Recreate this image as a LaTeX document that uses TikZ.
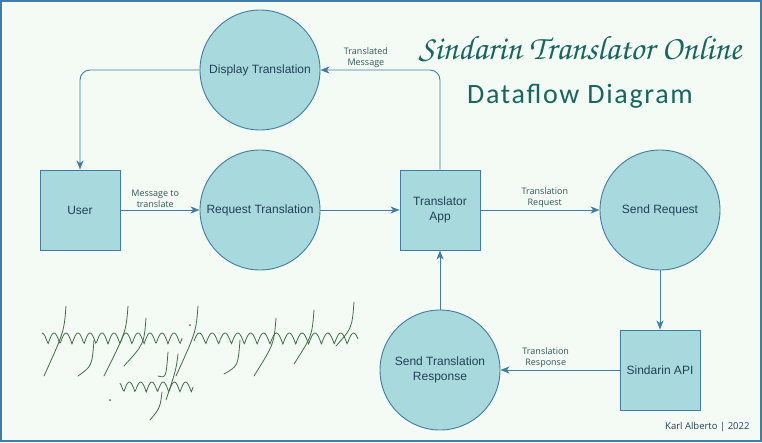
\documentclass[tikz,border=0pt]{standalone}
\usepackage{fontspec}
\setmainfont{Liberation Sans}
\newfontfamily\labelfont{Open Sans}
\newfontfamily\subtitlefont[LetterSpace=6]{Carlito}
\usetikzlibrary{arrows.meta,positioning}

\definecolor{bgmint}{HTML}{F4FBF4}
\definecolor{edgeblue}{HTML}{3F7DA6}
\definecolor{shapefill}{HTML}{A8D9DC}
\definecolor{nodetext}{HTML}{22405A}
\definecolor{labelgray}{HTML}{2D5858}
\definecolor{titleteal}{HTML}{17665F}
\definecolor{elfgreen}{HTML}{3D6F47}

\newcommand{\choruson}{\fontencoding{T1}\fontfamily{pzc}\fontseries{mb}\fontshape{it}\selectfont}

\tikzset{
  process/.style={circle, draw=edgeblue, fill=shapefill, line width=0.9pt,
    minimum size=120pt, inner sep=0pt, align=center, text=nodetext,
    font=\fontsize{12}{15}\selectfont},
  entity/.style={rectangle, draw=edgeblue, fill=shapefill, line width=0.9pt,
    minimum size=80pt, inner sep=0pt, align=center, text=nodetext,
    font=\fontsize{12}{15}\selectfont},
  flow/.style={draw=edgeblue, line width=0.9pt, rounded corners=10pt,
    -{Stealth[length=9pt,width=7pt,inset=2.5pt]}},
  flowlabel/.style={text=labelgray, align=center, inner sep=1.5pt,
    font=\labelfont\fontsize{9}{11}\selectfont},
  elvish/.style={draw=elfgreen, line width=0.8pt, line cap=round}
}

\begin{document}
\begin{tikzpicture}[x=1pt, y=-1pt]
  \useasboundingbox (0,0) rectangle (762,442);
  \fill[bgmint] (0,0) rectangle (762,442);
  \draw[edgeblue, line width=1.6pt] (0.8,0.8) rectangle (761.2,441.2);

  % processes and entities
  \node[process] (display)  at (260,70)  {Display Translation};
  \node[entity]  (user)     at (80,210)  {User};
  \node[process] (request)  at (260,210) {Request Translation};
  \node[entity]  (app)      at (440,210) {Translator\\App};
  \node[process] (send)     at (660,210) {Send Request};
  \node[entity]  (api)      at (660,370) {Sindarin API};
  \node[process] (response) at (440,370) {Send Translation\\Response};

  % data flows
  \draw[flow] (user) -- node[flowlabel, above, pos=0.44] {Message to\\translate} (request);
  \draw[flow] (request) -- (app);
  \draw[flow] (app) -- node[flowlabel, above, pos=0.54] {Translation\\Request} (send);
  \draw[flow] (send) -- (api);
  \draw[flow] (api) -- node[flowlabel, above, pos=0.62] {Translation\\Response} (response);
  \draw[flow] (response) -- (app);
  \draw[flow] (app.north) |- node[flowlabel, above, pos=0.81] {Translated\\Message} (display.east);
  \draw[flow] (display.west) -| (user.north);

  % titles
  \node[text=titleteal, font=\choruson\fontsize{34}{38}\selectfont] (title) at (580,49) {Sindarin Translator Online};
  \node[text=titleteal, font=\subtitlefont\fontsize{28}{31}\selectfont] (subtitle) at (580,96) {Dataflow Diagram};
  \node[text=nodetext, font=\labelfont\fontsize{9.5}{11}\selectfont, anchor=east] (credit) at (753,427) {Karl Alberto | 2022};

  % tengwar inscription
  \draw[elvish] plot[domain=42:182, samples=160, smooth] (\x, {344 - 11*abs(sin(\x*15))});
  \draw[elvish] plot[domain=194:358, samples=180, smooth] (\x, {344 - 11*abs(sin(\x*14))});
  \draw[elvish] plot[domain=120:193, samples=90, smooth] (\x, {392 - 10*abs(sin(\x*16))});
  \foreach \xt/\yt/\xb/\yb in {66/306/44/376, 128/306/104/376, 146/318/124/366,
      198/306/176/376, 276/318/254/376, 314/310/294/364, 354/302/336/346,
      94/340/78/376, 240/340/224/374, 168/352/158/376}
    \draw[elvish] (\xt,\yt) .. controls (\xt-2,\yt+26) .. (\xb,\yb);
  \foreach \xt/\yt/\xb/\yb in {178/354/166/400, 162/392/150/420}
    \draw[elvish] (\xt,\yt) .. controls (\xt-2,\yt+16) .. (\xb,\yb);
  \fill[elfgreen] (190,325) circle (1pt);
  \fill[elfgreen] (110,400) circle (1pt);
\end{tikzpicture}
\end{document}
